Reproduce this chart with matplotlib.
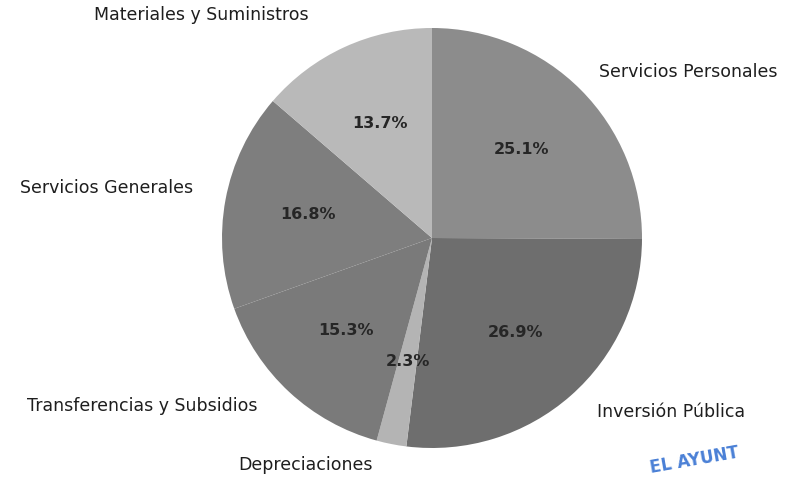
import matplotlib
matplotlib.use("Agg")
import matplotlib.pyplot as plt

# data
categorias = ['Servicios Personales', 'Inversión Pública', 'Depreciaciones',
              'Transferencias y Subsidios', 'Servicios Generales',
              'Materiales y Suministros']
porcentajes = [25.1, 26.9, 2.3, 15.3, 16.8, 13.7]
colores = ['#8c8c8c', '#6e6e6e', '#b4b4b4', '#7a7a7a', '#7e7e7e', '#b9b9b9']

# where each category name sits (data coords, pie radius = 1)
pos_etiquetas = [(1.22, 0.79), (1.14, -0.83), (-0.60, -1.08),
                 (-1.38, -0.80), (-1.55, 0.24), (-1.10, 1.06)]

W, H = 808, 479
cx, cy, r = 432, 238, 210

fig = plt.figure(figsize=(W / 100, H / 100), dpi=100)
ax = fig.add_axes([(cx - r) / W, (H - cy - r) / H, 2 * r / W, 2 * r / H])

wedges, textos, autotextos = ax.pie(
    porcentajes, colors=colores, startangle=90, counterclock=False,
    autopct=lambda p: '%.1f%%' % p, pctdistance=0.6, radius=1,
    wedgeprops=dict(linewidth=0), normalize=True)

ax.set_xlim(-1, 1)
ax.set_ylim(-1, 1)
ax.set_aspect('equal')
ax.axis('off')

for t, v in zip(autotextos, porcentajes):
    t.set_text('%.1f%%' % v)
    t.set_fontsize(11.5)
    t.set_fontweight('bold')
    t.set_color('#262626')

for nombre, (x, y) in zip(categorias, pos_etiquetas):
    ax.text(x, y, nombre, ha='center', va='center', fontsize=12.5,
            color='#1e1e1e', clip_on=False)

# bit of the blue stamp at the bottom
fig.text(0.86, 0.005, 'EL AYUNT', color='#4a80d6', fontsize=12,
         fontweight='bold', rotation=10, ha='center', va='bottom')

fig.savefig('out.png', dpi=100, facecolor='white')
